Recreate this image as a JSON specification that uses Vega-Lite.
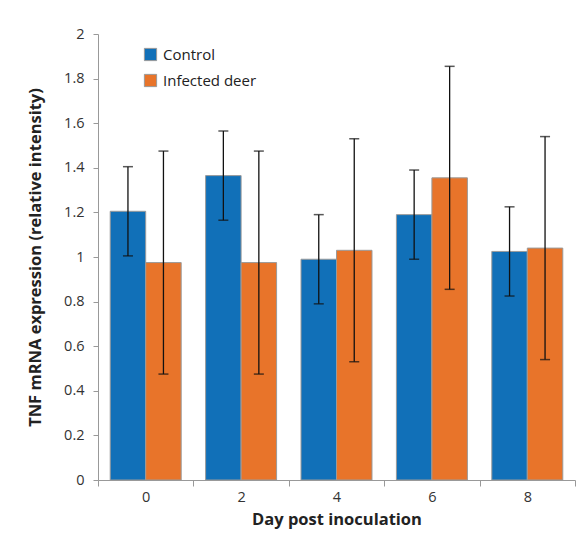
{
  "$schema": "https://vega.github.io/schema/vega-lite/v6.json",
  "width": 477,
  "height": 446,
  "autosize": {"type": "none"},
  "padding": {"left": 98, "top": 34, "right": 12, "bottom": 60},
  "background": "white",
  "config": {
    "font": "Open Sans",
    "view": {"stroke": null},
    "axis": {"domainColor": "#999999", "tickColor": "#999999", "labelColor": "#333333", "titleColor": "#222222", "labelFontSize": 14.5, "titleFontSize": 16.5, "titleFontWeight": "bold", "grid": false}
  },
  "data": {
    "values": [
      {"day": "0", "group": "Control", "value": 1.205, "lo": 1.005, "hi": 1.405},
      {"day": "0", "group": "Infected deer", "value": 0.975, "lo": 0.475, "hi": 1.475},
      {"day": "2", "group": "Control", "value": 1.365, "lo": 1.165, "hi": 1.565},
      {"day": "2", "group": "Infected deer", "value": 0.975, "lo": 0.475, "hi": 1.475},
      {"day": "4", "group": "Control", "value": 0.99, "lo": 0.79, "hi": 1.19},
      {"day": "4", "group": "Infected deer", "value": 1.03, "lo": 0.53, "hi": 1.53},
      {"day": "6", "group": "Control", "value": 1.19, "lo": 0.99, "hi": 1.39},
      {"day": "6", "group": "Infected deer", "value": 1.355, "lo": 0.855, "hi": 1.855},
      {"day": "8", "group": "Control", "value": 1.025, "lo": 0.825, "hi": 1.225},
      {"day": "8", "group": "Infected deer", "value": 1.04, "lo": 0.54, "hi": 1.54}
    ]
  },
  "encoding": {
    "x": {
      "field": "day", "type": "nominal", "title": "Day post inoculation",
      "scale": {"paddingInner": 0, "paddingOuter": 0},
      "axis": {"labelAngle": 0, "tickBand": "extent", "tickSize": 6, "labelPadding": 4, "titlePadding": 8}
    },
    "xOffset": {"field": "group", "type": "nominal", "scale": {"paddingInner": 0, "paddingOuter": 0.344}}
  },
  "layer": [
    {
      "mark": {"type": "bar", "stroke": "#9a9a9a", "strokeWidth": 1},
      "encoding": {
        "y": {
          "field": "value", "type": "quantitative", "title": "TNF mRNA expression (relative intensity)",
          "scale": {"domain": [0, 2]},
          "axis": {"values": [0, 0.2, 0.4, 0.6, 0.8, 1, 1.2, 1.4, 1.6, 1.8, 2], "format": ".2~f", "tickSize": 5, "labelPadding": 9, "titlePadding": 20}
        },
        "color": {
          "field": "group", "type": "nominal",
          "scale": {"domain": ["Control", "Infected deer"], "range": ["#1170b8", "#e8742a"]},
          "legend": {"title": null, "orient": "none", "legendX": 45, "legendY": 13, "symbolType": "square", "symbolSize": 150, "symbolStrokeColor": "#999999", "symbolStrokeWidth": 1, "labelFontSize": 15, "labelColor": "#222222", "rowPadding": 9, "labelOffset": 5}
        }
      }
    },
    {
      "mark": {"type": "rule", "color": "#111111", "strokeWidth": 1.3},
      "encoding": {
        "y": {"field": "lo", "type": "quantitative"},
        "y2": {"field": "hi"}
      }
    },
    {
      "mark": {"type": "tick", "color": "#111111", "size": 10, "thickness": 1.5},
      "encoding": {"y": {"field": "lo", "type": "quantitative"}}
    },
    {
      "mark": {"type": "tick", "color": "#111111", "size": 10, "thickness": 1.5},
      "encoding": {"y": {"field": "hi", "type": "quantitative"}}
    }
  ]
}
